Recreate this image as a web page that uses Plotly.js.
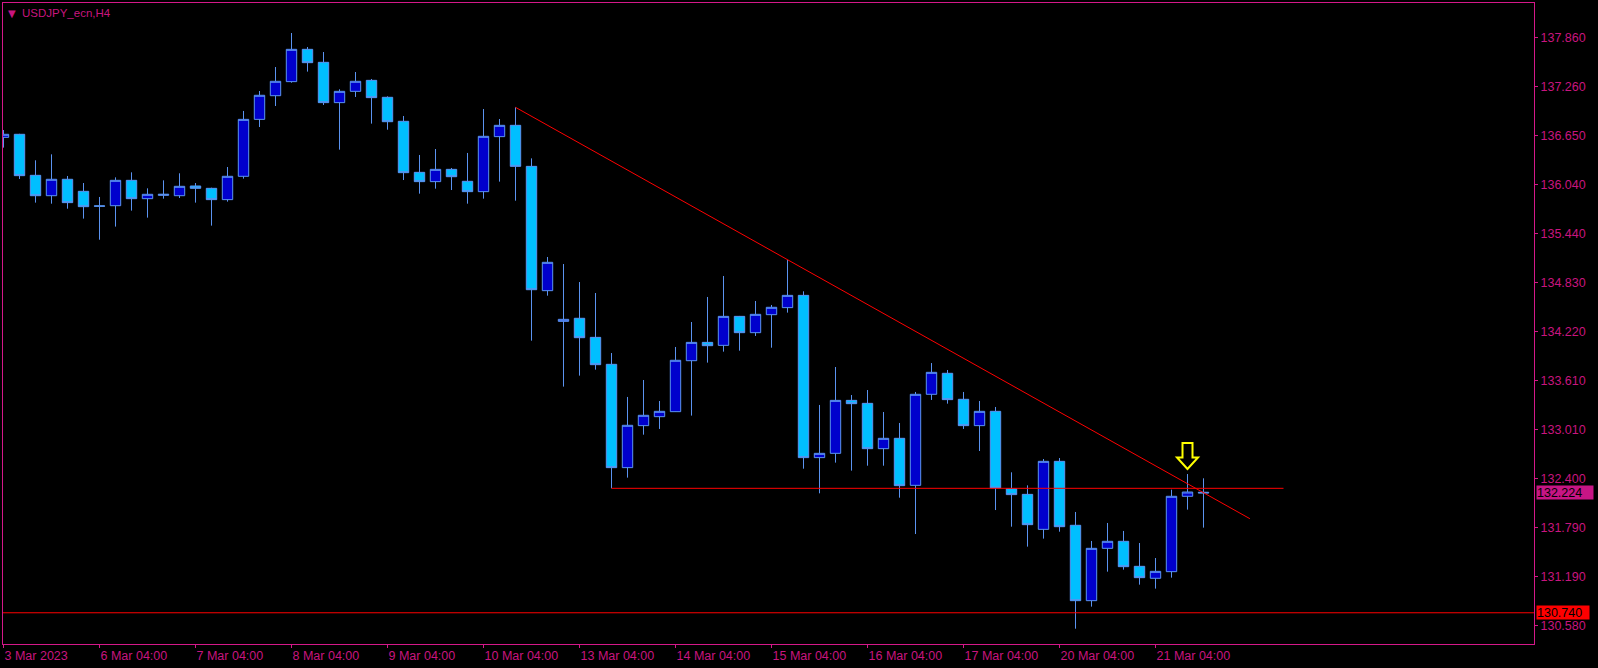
<!DOCTYPE html>
<html>
<head>
<meta charset="utf-8">
<script src="https://cdn.plot.ly/plotly-3.0.1.min.js"></script>
<style>
  html, body { margin: 0; padding: 0; background: #000; }
  #chart { width: 1598px; height: 668px; }
</style>
</head>
<body>
<div id="chart"></div>
<script>
// ---- data (USDJPY_ecn, H4) ----
const symbolTitle = "USDJPY_ecn,H4";

const opens = [
  136.626, 136.664, 136.156, 135.904, 136.107, 135.958, 135.778, 135.780, 136.094, 135.867,
  135.908, 135.904, 136.024, 135.995, 135.855, 136.144, 136.849, 137.142, 137.316, 137.716,
  137.555, 137.056, 137.196, 137.332, 137.122, 136.825, 136.193, 136.078, 136.230, 136.082,
  135.954, 136.635, 136.775, 136.267, 134.728, 134.348, 134.386, 134.150, 133.816, 132.537,
  133.057, 133.168, 133.230, 133.861, 134.088, 134.051, 134.410, 134.208, 134.431, 134.518,
  134.670, 132.661, 132.714, 133.370, 133.333, 132.772, 132.900, 132.318, 133.445, 133.705,
  133.383, 133.057, 133.234, 132.277, 132.206, 131.773, 132.615, 131.823, 130.890, 131.538,
  131.625, 131.315, 131.167, 131.249, 132.182, 132.232
];
const highs = [
  136.717, 136.670, 136.342, 136.416, 136.148, 136.061, 135.888, 136.131, 136.193, 135.995,
  136.094, 136.181, 136.061, 136.003, 136.259, 136.953, 137.200, 137.497, 137.918, 137.745,
  137.683, 137.221, 137.435, 137.349, 137.134, 136.891, 136.408, 136.482, 136.247, 136.433,
  136.977, 136.853, 136.998, 136.366, 135.145, 135.058, 134.835, 134.699, 133.956, 133.412,
  133.622, 133.362, 134.031, 134.340, 134.650, 134.910, 134.415, 134.600, 134.551, 135.108,
  134.720, 133.313, 133.783, 133.436, 133.498, 133.226, 133.090, 133.474, 133.832, 133.746,
  133.474, 133.362, 133.288, 132.479, 132.318, 132.644, 132.656, 131.988, 131.629, 131.852,
  131.753, 131.604, 131.418, 132.264, 132.458, 132.405
];
const lows = [
  136.499, 136.111, 135.818, 135.805, 135.743, 135.620, 135.359, 135.521, 135.719, 135.632,
  135.867, 135.875, 135.818, 135.533, 135.830, 136.115, 136.754, 137.014, 137.303, 137.440,
  137.027, 136.474, 137.126, 136.796, 136.721, 136.098, 135.929, 135.991, 135.974, 135.805,
  135.867, 136.078, 135.842, 134.109, 134.666, 133.540, 133.676, 133.750, 132.281, 132.413,
  132.945, 133.016, 133.228, 133.181, 133.837, 133.973, 133.985, 134.167, 134.022, 134.456,
  132.524, 132.219, 132.599, 132.500, 132.561, 132.561, 132.165, 131.715, 133.375, 133.329,
  133.016, 132.743, 132.012, 131.806, 131.559, 131.658, 131.744, 130.543, 130.816, 131.249,
  131.274, 131.088, 131.039, 131.175, 132.017, 131.794
];
const closes = [
  136.664, 136.152, 135.904, 136.107, 135.818, 135.768, 135.774, 136.094, 135.867, 135.921,
  135.921, 136.020, 135.995, 135.855, 136.144, 136.849, 137.147, 137.320, 137.716, 137.551,
  137.056, 137.196, 137.320, 137.118, 136.820, 136.189, 136.078, 136.230, 136.139, 135.954,
  136.639, 136.775, 136.267, 134.740, 135.079, 134.373, 134.146, 133.812, 132.537, 133.061,
  133.185, 133.234, 133.866, 134.088, 134.047, 134.410, 134.208, 134.435, 134.522, 134.670,
  132.661, 132.714, 133.370, 133.329, 132.772, 132.900, 132.314, 133.445, 133.717, 133.379,
  133.057, 133.234, 132.285, 132.203, 131.831, 132.615, 131.806, 130.890, 131.538, 131.625,
  131.311, 131.175, 131.253, 132.182, 132.235, 132.224
];

// time-axis labels (bar index where each label sits)
const xLabelBars = [0, 6, 12, 18, 24, 30, 36, 42, 48, 54, 60, 66, 72];
const xLabels = ["3 Mar 2023", "6 Mar 04:00", "7 Mar 04:00", "8 Mar 04:00", "9 Mar 04:00",
                 "10 Mar 04:00", "13 Mar 04:00", "14 Mar 04:00", "15 Mar 04:00",
                 "16 Mar 04:00", "17 Mar 04:00", "20 Mar 04:00", "21 Mar 04:00"];

// price-axis labels
const yLabels = [137.860, 137.260, 136.650, 136.040, 135.440, 134.830, 134.220,
                 133.610, 133.010, 132.400, 131.790, 131.190, 130.580];

// drawn objects
const trendBars   = [32, 77.9];
const trendPrices = [136.998, 131.905];
const hlineBars   = [38, 80];
const hlinePrices = [132.281, 132.281];
const supportLevel = 130.740;
const currentPrice = 132.224;
const signalBar = 74;
const signalPrice = 132.52;

// ---- styling ----
const FG = '#C8157F';
const FRAME = '#D41889';
const WICK = '#5B93F0';
const BULL = '#0000CD';
const BEAR = '#00BFFF';
const FONT = 'Liberation Sans, Arial, sans-serif';

const barIndex = opens.map((_, i) => i);

const candles = {
  type: 'candlestick',
  x: barIndex,
  open: opens, high: highs, low: lows, close: closes,
  increasing: { line: { color: WICK, width: 1 }, fillcolor: BULL },
  decreasing: { line: { color: WICK, width: 1 }, fillcolor: BEAR },
  whiskerwidth: 0,
  hoverinfo: 'skip',
  showlegend: false
};

const trend = {
  type: 'scatter', mode: 'lines',
  x: trendBars, y: trendPrices,
  line: { color: '#FF0000', width: 1 },
  hoverinfo: 'skip', showlegend: false
};

const hline = {
  type: 'scatter', mode: 'lines',
  x: hlineBars, y: hlinePrices,
  line: { color: '#FF0000', width: 1 },
  hoverinfo: 'skip', showlegend: false
};

// pixel geometry of the arrow (relative to its tip)
const arrowPath = 'M0,0 L-10.5,11.5 L-5,11.5 L-5,26 L5,26 L5,11.5 L10.5,11.5 Z';

const layout = {
  width: 1598, height: 668,
  margin: { l: 3, r: 64, t: 3, b: 24, pad: 0 },
  paper_bgcolor: '#000000',
  plot_bgcolor: '#000000',
  font: { family: FONT, size: 12.5, color: FG },
  showlegend: false,
  boxgap: 0.35,
  boxgroupgap: 0,
  xaxis: {
    range: [-0.03125, 95.656],
    showgrid: false, zeroline: false,
    showline: true, mirror: true, linecolor: FRAME, linewidth: 1,
    tickmode: 'array', tickvals: xLabelBars, ticktext: xLabels,
    ticks: 'outside', ticklen: 3, tickwidth: 1, tickcolor: FRAME,
    ticklabelposition: 'outside right',
    tickfont: { family: FONT, size: 12.5, color: FG },
    rangeslider: { visible: false },
    fixedrange: true
  },
  yaxis: {
    side: 'right',
    range: [130.3535, 138.2896],
    showgrid: false, zeroline: false,
    showline: true, mirror: true, linecolor: FRAME, linewidth: 1,
    tickmode: 'array', tickvals: yLabels, ticktext: yLabels.map(v => v.toFixed(3)),
    ticks: 'outside', ticklen: 3, tickwidth: 1, tickcolor: FRAME,
    tickfont: { family: FONT, size: 12.5, color: FG },
    fixedrange: true
  },
  shapes: [
    { type: 'line', xref: 'paper', yref: 'y', x0: 0, x1: 1,
      y0: supportLevel, y1: supportLevel, line: { color: '#FF0000', width: 1 } },
    { type: 'path', xref: 'x', yref: 'y',
      xsizemode: 'pixel', ysizemode: 'pixel',
      xanchor: signalBar, yanchor: signalPrice,
      path: arrowPath,
      line: { color: '#FFFF00', width: 2 }, fillcolor: 'rgba(0,0,0,0)' }
  ],
  annotations: [
    { xref: 'paper', yref: 'paper', x: 0, y: 1, xanchor: 'left', yanchor: 'top',
      xshift: 3, yshift: -3, text: '▼', showarrow: false,
      font: { family: 'DejaVu Sans', size: 10, color: FG } },
    { xref: 'paper', yref: 'paper', x: 0, y: 1, xanchor: 'left', yanchor: 'top',
      xshift: 17, yshift: -2, text: symbolTitle, showarrow: false,
      font: { family: FONT, size: 11.5, color: FG } },
    { xref: 'paper', yref: 'y', x: 1, y: currentPrice, xanchor: 'left', yanchor: 'middle',
      xshift: 2, text: currentPrice.toFixed(3), showarrow: false,
      bgcolor: '#C71585', width: 56, height: 13, align: 'left', borderpad: 0,
      font: { family: FONT, size: 12.5, color: '#000000' } },
    { xref: 'paper', yref: 'y', x: 1, y: supportLevel, xanchor: 'left', yanchor: 'middle',
      xshift: 2, text: supportLevel.toFixed(3), showarrow: false,
      bgcolor: '#FF0000', width: 52, height: 13, align: 'left', borderpad: 0,
      font: { family: FONT, size: 12.5, color: '#000000' } }
  ]
};

Plotly.newPlot('chart', [candles, trend, hline], layout,
  { displayModeBar: false, staticPlot: true, responsive: false });
</script>
</body>
</html>
